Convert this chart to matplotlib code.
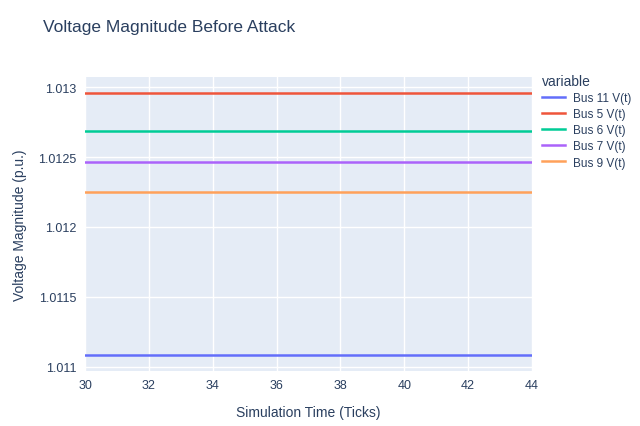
import matplotlib.pyplot as plt

# data
ticks = [30, 31, 32, 33, 34, 35, 36, 37, 38, 39, 40, 41, 42, 43, 44]
series_names = ['Bus 11 V(t)', 'Bus 5 V(t)', 'Bus 6 V(t)', 'Bus 7 V(t)', 'Bus 9 V(t)']
bus11 = [1.011086] * len(ticks)
bus5 = [1.012957] * len(ticks)
bus6 = [1.012686] * len(ticks)
bus7 = [1.012464] * len(ticks)
bus9 = [1.012250] * len(ticks)
series_values = [bus11, bus5, bus6, bus7, bus9]
colors = ['#636efa', '#EF553B', '#00cc96', '#ab63fa', '#FFA15A']

text_color = '#2a3f5f'
plt.rcParams['font.family'] = ['Liberation Sans', 'DejaVu Sans']

fig = plt.figure(figsize=(6.4, 4.27), dpi=100)
ax = fig.add_axes([0.133, 0.129, 0.698, 0.688])
ax.set_facecolor('#E5ECF6')

for name, yy, c in zip(series_names, series_values, colors):
    ax.plot(ticks, yy, color=c, linewidth=1.8, label=name)

ax.set_xlim(30, 44)
ax.set_ylim(1.010971, 1.013071)
ax.set_xticks([30, 32, 34, 36, 38, 40, 42, 44])
ax.set_yticks([1.011, 1.0115, 1.012, 1.0125, 1.013])
ax.set_yticklabels(['1.011', '1.0115', '1.012', '1.0125', '1.013'])
ax.grid(True, color='white', linewidth=1)
ax.set_axisbelow(True)
for s in ax.spines.values():
    s.set_visible(False)
ax.tick_params(length=0, labelsize=9, colors=text_color, pad=6)
ax.set_xlabel('Simulation Time (Ticks)', fontsize=10, color=text_color, labelpad=10)
ax.set_ylabel('Voltage Magnitude (p.u.)', fontsize=10, color=text_color, labelpad=8)

fig.text(0.067, 0.925, 'Voltage Magnitude Before Attack', fontsize=12.5, color=text_color)

leg = fig.legend(loc='upper left', bbox_to_anchor=(0.843, 0.83), frameon=False,
                 title='variable', fontsize=8.5, title_fontsize=10,
                 handlelength=2.0, handletextpad=0.6, labelspacing=0.35,
                 alignment='left', borderaxespad=0, borderpad=0.2)
for t in leg.get_texts():
    t.set_color(text_color)
leg.get_title().set_color(text_color)

fig.savefig('out.png', dpi=100, facecolor='white')
